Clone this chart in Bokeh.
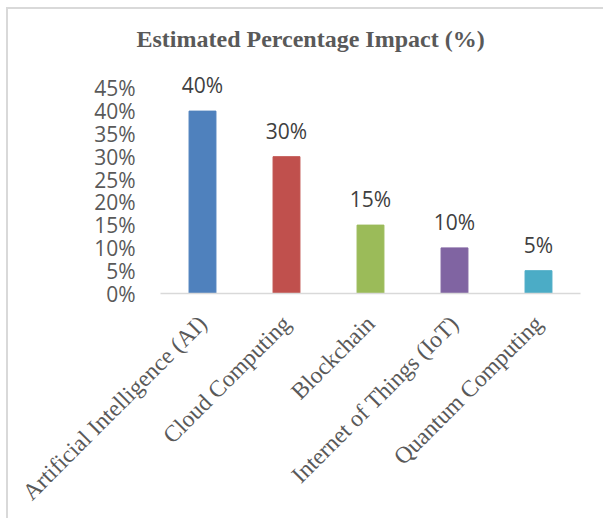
from bokeh.plotting import figure
from bokeh.models import ColumnDataSource, FactorRange, Range1d, FixedTicker, NumeralTickFormatter, LabelSet
from bokeh.core.properties import value
from bokeh.embed import file_html
from bokeh.resources import INLINE
import math

categories = ["Artificial Intelligence (AI)", "Cloud Computing", "Blockchain",
              "Internet of Things (IoT)", "Quantum Computing"]
values = [40, 30, 15, 10, 5]
colors = ["#4F81BD", "#C0504D", "#9BBB59", "#8064A2", "#4BACC6"]
y_ticks = [0, 5, 10, 15, 20, 25, 30, 35, 40, 45]

src = ColumnDataSource(dict(
    cat=categories,
    val=[v / 100 for v in values],
    color=colors,
    label=[f"{v}%" for v in values],
))

p = figure(
    x_range=FactorRange(*categories, range_padding=0),
    y_range=Range1d(0, 0.5),
    frame_width=420, frame_height=228,
    min_border_left=152, min_border_right=25, min_border_top=10, min_border_bottom=225,
    output_backend="svg", toolbar_location=None,
    title="Estimated Percentage Impact (%)",
)
p.styles = {"border-left": "2px solid #d9d9d9", "border-top": "2px solid #d9d9d9",
            "margin-left": "6px", "margin-top": "7px"}

p.vbar(x="cat", top="val", width=0.32, color="color", source=src)

labels = LabelSet(x="cat", y="val", text="label", source=src, y_offset=18,
                  text_align="center", text_baseline="alphabetic",
                  text_font=value("Open Sans"), text_font_size="21px", text_color="#404040")
p.add_layout(labels)

p.title.align = "left"
p.title.offset = -24
p.title.standoff = 28
p.title.text_font = "Liberation Serif"
p.title.text_font_size = "24px"
p.title.text_font_style = "bold"
p.title.text_color = "#595959"

p.xgrid.grid_line_color = None
p.ygrid.grid_line_color = None
p.outline_line_color = None

p.yaxis.ticker = FixedTicker(ticks=[t / 100 for t in y_ticks])
p.yaxis.formatter = NumeralTickFormatter(format="0%")
p.yaxis.axis_line_color = None
p.yaxis.major_tick_line_color = None
p.yaxis.minor_tick_line_color = None
p.yaxis.major_label_standoff = 19
p.yaxis.major_label_text_font = "Open Sans"
p.yaxis.major_label_text_font_size = "21px"
p.yaxis.major_label_text_color = "#595959"

p.xaxis.axis_line_color = "#d9d9d9"
p.xaxis.axis_line_width = 1.5
p.xaxis.major_tick_line_color = None
p.xaxis.minor_tick_line_color = None
p.xaxis.major_label_orientation = math.pi / 4
p.xaxis.major_label_standoff = 20
p.xaxis.major_label_text_font = "Liberation Serif"
p.xaxis.major_label_text_font_size = "23.5px"
p.xaxis.major_label_text_color = "#595959"

open("out.html", "w").write(file_html(p, INLINE))
